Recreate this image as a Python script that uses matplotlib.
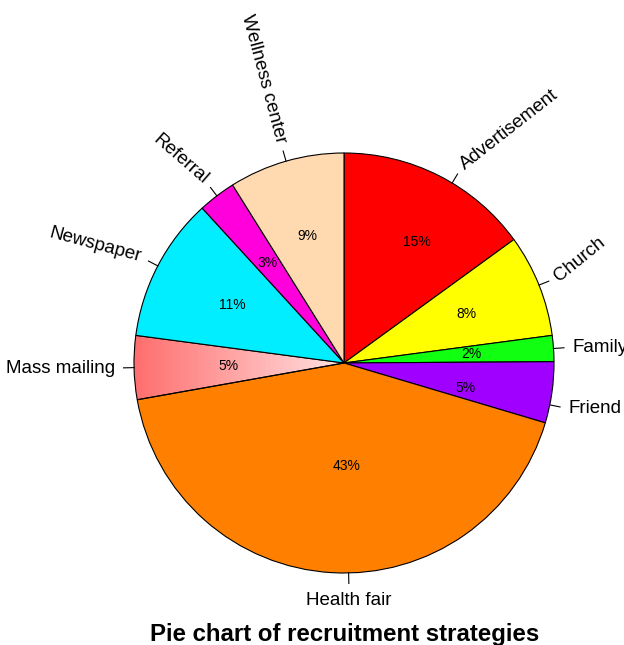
import numpy as np
import matplotlib
matplotlib.use("Agg")
import matplotlib.pyplot as plt
from matplotlib.colors import LinearSegmentedColormap

plt.rcParams['font.family'] = ['Liberation Sans', 'DejaVu Sans']

strategies = ["Advertisement", "Church", "Family", "Friend", "Health fair",
              "Mass mailing", "Newspaper", "Referral", "Wellness center"]
shares = [15.0, 7.9, 2.0, 4.7, 42.6, 4.9, 11.1, 2.9, 8.9]

colors = ["#FF0000", "#FFFF00", "#11FF11", "#A000FF", "#FF8000",
          "none", "#00EEFF", "#FF00DD", "#FFDAB0"]
# label styling: rotation, small angular nudges, radius of % text
label_rot = [38, 39, 0, 0, 0, 0, -15, -41, -75]
label_nudge = [-4, 0, 0, -3.4, 4.5, 0, 0, 0, 0]
pct_r = [0.67, 0.63, 0.61, 0.59, 0.49, 0.55, 0.6, 0.6, 0.63]

fig = plt.figure(figsize=(6.24, 6.45), dpi=100)
ax = fig.add_axes([0, 0, 1, 1])

wedges, _ = ax.pie(shares, colors=colors, startangle=90, counterclock=False,
                   radius=1, wedgeprops=dict(edgecolor='black', linewidth=0.8))

# gradient fill for Mass mailing
cmap = LinearSegmentedColormap.from_list("mm", ["#FF6E6E", "#FFE2E2"])
grad = np.linspace(0, 1, 256).reshape(1, -1)
im = ax.imshow(grad, cmap=cmap, extent=(-1.0, 0.0, -0.3, 0.3), aspect='auto', zorder=0.5)
im.set_clip_path(wedges[5])
wedges[5].set_zorder(1)

total = sum(shares)
for i, w in enumerate(wedges):
    mid = np.deg2rad((w.theta1 + w.theta2) / 2 + label_nudge[i])
    c, s = np.cos(mid), np.sin(mid)
    ax.plot([c, 1.05 * c], [s, 1.05 * s], color='black', lw=0.8)
    pct = "%d%%" % round(shares[i] / total * 100)
    ax.text(pct_r[i] * c, pct_r[i] * s, pct, ha='center', va='center', fontsize=10)
    if abs(c) < 0.1:
        ax.text(1.09 * c, 1.09 * s, strategies[i], ha='center',
                va='top' if s < 0 else 'bottom', fontsize=13.5)
    else:
        ax.text(1.09 * c, 1.09 * s, strategies[i], ha='left' if c > 0 else 'right',
                va='center', rotation=label_rot[i], rotation_mode='anchor', fontsize=13.5)

ax.set_xlim(-344 / 210, 280 / 210)
ax.set_ylim(-282 / 210, 363 / 210)
ax.set_aspect('equal')
ax.axis('off')

fig.text(345 / 624, 4 / 645, "Pie chart of recruitment strategies", ha='center',
         va='baseline', fontsize=17.3, fontweight='bold')

fig.savefig("out.png", dpi=100)
